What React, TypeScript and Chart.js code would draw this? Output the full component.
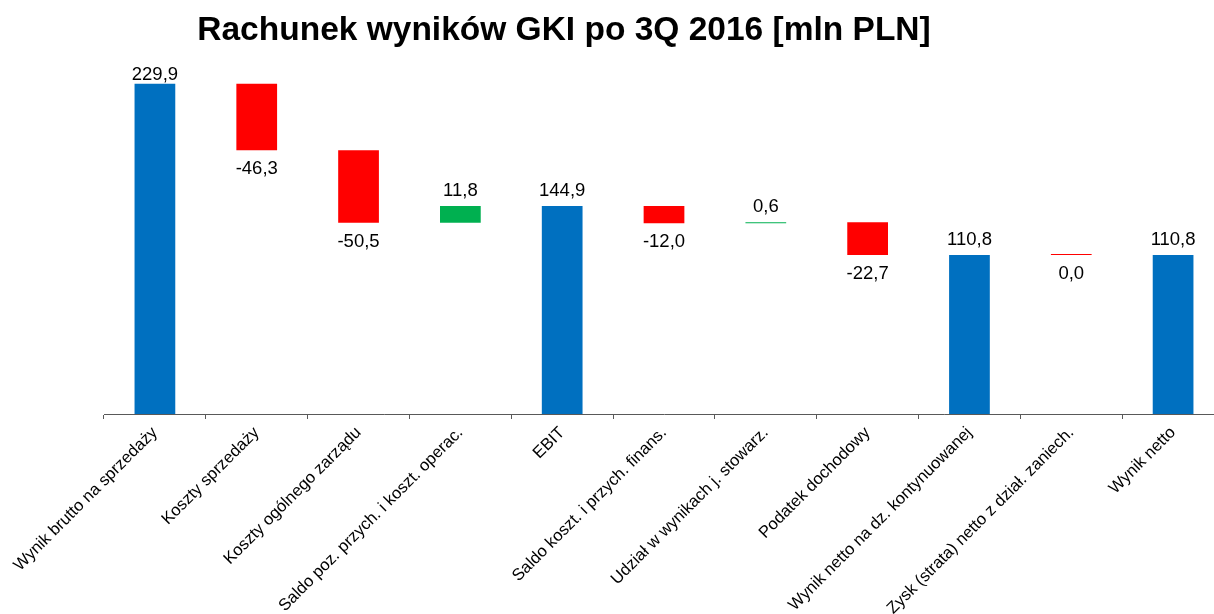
import React, { useEffect, useRef } from "react";
import { Chart, registerables } from "chart.js";

Chart.register(...registerables);

const TITLE = "Rachunek wyników GKI po 3Q 2016 [mln PLN]";

const categories = [
  "Wynik brutto na sprzedaży",
  "Koszty sprzedaży",
  "Koszty ogólnego zarządu",
  "Saldo poz. przych. i koszt. operac.",
  "EBIT",
  "Saldo koszt. i przych. finans.",
  "Udział w wynikach j. stowarz.",
  "Podatek dochodowy",
  "Wynik netto na dz. kontynuowanej",
  "Zysk (strata) netto z dział. zaniech.",
  "Wynik netto",
];

// change (or total) shown for each step
const values = [229.9, -46.3, -50.5, 11.8, 144.9, -12.0, 0.6, -22.7, 110.8, 0.0, 110.8];
// which steps are totals (bars from zero)
const isTotal = [true, false, false, false, true, false, false, false, true, false, true];

const Y_MIN = 0;
const Y_MAX = 250;

const BLUE = "#0070C0";
const RED = "#FF0000";
const GREEN = "#00B050";
const FONT = "'Liberation Sans', Arial, sans-serif";

function fmt(v: number) {
  return v.toFixed(1).replace(".", ",");
}

export default function App() {
  const ref = useRef<HTMLCanvasElement | null>(null);

  useEffect(() => {
    if (!ref.current) return;

    // floating ranges built from the step values
    const ranges: [number, number][] = [];
    let run = 0;
    values.forEach((v, i) => {
      if (isTotal[i]) {
        run = v;
        ranges.push([0, v]);
      } else {
        const start = run;
        run = run + v;
        ranges.push([start, run]);
      }
    });
    const colors = values.map((v, i) => (isTotal[i] ? BLUE : v > 0 ? GREEN : RED));

    const labelPlugin = {
      id: "labels",
      afterDatasetsDraw(chart: any) {
        const ctx = chart.ctx;
        const meta = chart.getDatasetMeta(0);
        const area = chart.chartArea;
        ctx.save();
        ctx.fillStyle = "#000";
        ctx.font = `18.5px ${FONT}`;
        ctx.textAlign = "center";
        ctx.textBaseline = "alphabetic";
        meta.data.forEach((bar: any, i: number) => {
          const v = values[i];
          const top = Math.min(bar.y, bar.base);
          const bottom = Math.max(bar.y, bar.base);
          if (isTotal[i] || v > 0) {
            const y = Math.max(top - 10, area.top + 25);
            ctx.fillText(fmt(v), bar.x, y);
          } else {
            ctx.fillText(fmt(v), bar.x, bottom + 24);
          }
        });
        ctx.restore();
      },
      afterDraw(chart: any) {
        const ctx = chart.ctx;
        ctx.save();
        ctx.fillStyle = "#000";
        ctx.font = `bold 33.5px ${FONT}`;
        ctx.textAlign = "center";
        ctx.textBaseline = "alphabetic";
        ctx.fillText(TITLE, 564, 40);
        ctx.restore();
      },
    };

    const chart = new Chart(ref.current, {
      type: "bar",
      data: {
        labels: categories,
        datasets: [
          {
            data: ranges as any,
            backgroundColor: colors,
            borderWidth: 0,
            barPercentage: 0.4,
            categoryPercentage: 1,
            minBarLength: 1,
          },
        ],
      },
      options: {
        animation: false,
        responsive: false,
        devicePixelRatio: 1,
        layout: { padding: { left: 104, right: 16, top: 55, bottom: 0 } },
        plugins: {
          legend: { display: false },
          title: { display: false },
          tooltip: { enabled: false },
        },
        scales: {
          x: {
            offset: true,
            grid: {
              display: true,
              offset: true,
              drawOnChartArea: false,
              drawTicks: true,
              tickLength: 5,
              color: "#595959",
            },
            border: { display: true, color: "#595959", width: 1 },
            ticks: {
              autoSkip: false,
              maxRotation: 45,
              minRotation: 45,
              color: "#000",
              font: { family: FONT, size: 16.6 },
              padding: 4,
            },
            afterFit: (scale: any) => {
              scale.height = 200;
            },
          },
          y: {
            display: false,
            min: Y_MIN,
            max: Y_MAX,
          },
        },
      },
      plugins: [labelPlugin],
    });

    return () => chart.destroy();
  }, []);

  return (
    <div
      style={{
        position: "fixed",
        left: 0,
        top: 0,
        width: 1214,
        height: 614,
        overflow: "hidden",
        background: "#fff",
      }}
    >
      <canvas ref={ref} width={1240} height={614} style={{ width: 1240, height: 614, display: "block" }} />
    </div>
  );
}
